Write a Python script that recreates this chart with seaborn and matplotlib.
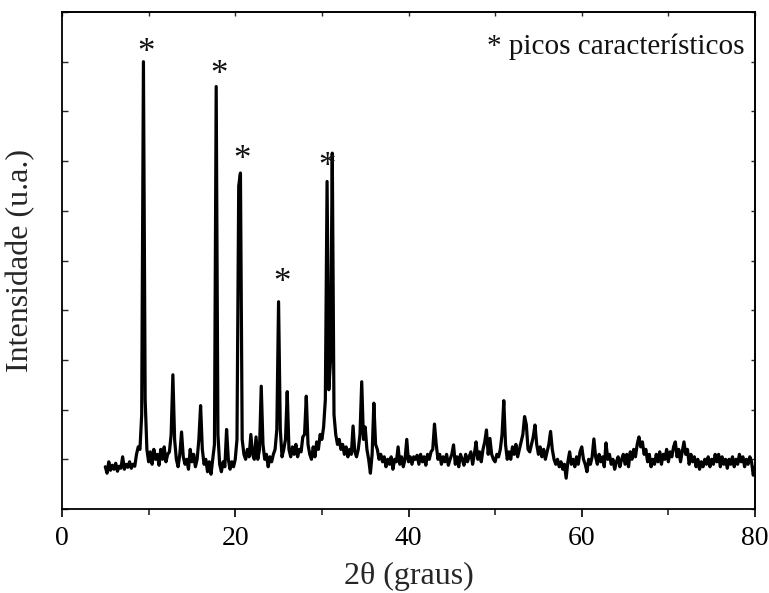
import numpy as np
import pandas as pd
import matplotlib
matplotlib.use("Agg")
import matplotlib.pyplot as plt
import seaborn as sns

# 2-theta sample positions (degrees), step 0.2 from 5.0 to 80.0
two_theta = np.round(np.arange(5.0, 80.0001, 0.2), 1)

intensity = [
    0.85, 0.72, 0.95, 0.78, 0.88, 0.80, 0.92, 0.76, 0.86, 0.82,   # 5.0-6.8
    1.05, 0.80, 0.90, 0.84, 0.95, 0.82, 0.90, 0.86, 1.10, 1.25,   # 7.0-8.8
    1.20, 1.90, 9.00, 2.20, 1.20, 0.95, 1.15, 0.90, 1.20, 1.00,   # 9.0-10.8
    1.10, 0.88, 1.20, 1.00, 1.25, 0.95, 1.10, 1.15, 1.50, 2.70,   # 11.0-12.8
    1.40, 1.00, 0.85, 1.10, 1.55, 1.05, 0.90, 1.00, 0.80, 1.20,   # 13.0-14.8
    0.95, 1.10, 0.85, 1.00, 1.40, 2.08, 1.20, 0.90, 1.00, 0.75,   # 15.0-16.8
    0.95, 0.70, 1.00, 1.30, 8.50, 1.50, 0.90, 0.75, 0.95, 0.85,   # 17.0-18.8
    1.60, 1.00, 0.80, 0.95, 0.85, 1.00, 1.40, 6.50, 6.76, 1.40,   # 19.0-20.8
    1.10, 1.00, 1.20, 1.05, 1.50, 1.10, 1.00, 1.45, 1.00, 1.20,   # 21.0-22.8
    2.47, 1.30, 1.00, 1.10, 0.85, 1.05, 0.95, 1.10, 1.20, 1.60,   # 23.0-24.8
    4.17, 1.60, 1.05, 1.20, 1.40, 2.36, 1.20, 1.05, 1.25, 1.10,   # 25.0-26.8
    1.30, 1.05, 1.20, 1.15, 1.45, 1.50, 2.27, 1.30, 1.10, 1.00,   # 27.0-28.8
    1.25, 1.05, 1.35, 1.20, 1.50, 1.40, 1.65, 2.20, 6.59, 2.40,   # 29.0-30.8
    3.00, 7.16, 1.90, 1.50, 1.30, 1.40, 1.20, 1.30, 1.10, 1.25,   # 31.0-32.8
    1.05, 1.20, 1.10, 1.67, 1.15, 1.05, 1.20, 1.50, 2.56, 1.40,   # 33.0-34.8
    1.65, 1.20, 1.00, 0.72, 1.10, 2.13, 1.30, 1.20, 1.00, 1.10,   # 35.0-36.8
    0.95, 1.05, 0.85, 1.00, 0.90, 1.05, 0.80, 1.00, 0.95, 1.25,   # 37.0-38.8
    0.90, 1.05, 0.85, 1.00, 1.40, 0.95, 1.05, 0.90, 1.05, 1.00,   # 39.0-40.8
    1.08, 0.90, 1.10, 0.95, 1.05, 0.88, 1.10, 1.00, 1.15, 1.20,   # 41.0-42.8
    1.71, 1.30, 1.00, 1.10, 0.90, 1.05, 0.95, 1.10, 0.88, 1.00,   # 43.0-44.8
    1.10, 1.29, 0.90, 1.05, 0.85, 1.10, 1.00, 0.88, 1.10, 0.95,   # 45.0-46.8
    1.05, 1.15, 0.90, 1.10, 1.35, 1.00, 1.15, 0.95, 1.20, 1.35,   # 47.0-48.8
    1.59, 1.10, 1.42, 1.10, 1.00, 0.95, 1.10, 1.05, 1.20, 1.50,   # 49.0-50.8
    2.18, 1.30, 1.00, 1.15, 1.00, 1.25, 1.10, 1.30, 1.05, 1.20,   # 51.0-52.8
    1.35, 1.50, 1.86, 1.70, 1.20, 1.15, 1.30, 1.45, 1.69, 1.30,   # 53.0-54.8
    1.10, 1.25, 1.05, 1.20, 1.00, 1.15, 1.30, 1.56, 1.20, 1.00,   # 55.0-56.8
    0.90, 1.00, 0.85, 0.95, 0.80, 0.90, 0.62, 0.95, 1.15, 0.90,   # 57.0-58.8
    1.00, 0.85, 1.05, 0.90, 1.15, 1.25, 1.00, 0.90, 0.75, 1.00,   # 59.0-60.8
    0.90, 1.05, 1.41, 1.05, 0.90, 1.10, 0.95, 1.05, 0.85, 1.33,   # 61.0-62.8
    1.00, 1.10, 0.90, 1.00, 0.80, 0.95, 1.05, 0.85, 1.00, 1.10,   # 63.0-64.8
    0.90, 1.10, 0.85, 1.15, 1.00, 1.20, 1.05, 1.30, 1.45, 1.25,   # 65.0-66.8
    1.35, 1.10, 1.20, 0.95, 1.10, 0.85, 1.00, 0.90, 1.10, 0.95,   # 67.0-68.8
    1.15, 0.90, 1.10, 1.00, 1.20, 0.95, 1.15, 1.05, 1.25, 1.35,   # 69.0-70.8
    1.05, 1.20, 0.95, 1.15, 1.35, 1.10, 1.20, 0.90, 1.10, 0.95,   # 71.0-72.8
    1.05, 0.85, 1.00, 0.80, 0.95, 0.85, 1.00, 0.90, 1.05, 0.85,   # 73.0-74.8
    1.00, 0.90, 1.10, 0.95, 1.10, 0.85, 1.05, 0.90, 1.00, 0.82,   # 75.0-76.8
    1.00, 0.90, 1.05, 0.85, 1.00, 0.90, 1.10, 0.95, 1.05, 0.85,   # 77.0-78.8
    1.00, 0.90, 1.05, 0.95, 0.68, 0.85,                           # 79.0-80.0
]

# characteristic peaks marked with an asterisk (glyph centres)
star_x = [9.7, 18.1, 20.75, 25.4, 30.6]
star_y = [9.34, 8.9, 7.17, 4.7, 7.04]

x_ticks = [0, 20, 40, 60, 80]
x_label = "2θ (graus)"
y_label = "Intensidade (u.a.)"
note = "* picos característicos"

sns.set_theme(style="ticks")
plt.rcParams["font.family"] = ["Liberation Serif", "DejaVu Serif"]

df = pd.DataFrame({"two_theta": two_theta, "intensity": intensity})

fig = plt.figure(figsize=(7.69, 5.93), dpi=100)
ax = fig.add_axes([62 / 769, 1 - 509 / 593, (755 - 62) / 769, (509 - 12) / 593])

sns.lineplot(data=df, x="two_theta", y="intensity", color="black",
             linewidth=2.3, estimator=None, sort=False, ax=ax)

for sx, sy in zip(star_x, star_y):
    ax.annotate("*", xy=(sx, sy), xytext=(0, -6), textcoords="offset points",
                ha="center", va="center", fontsize=25, color="#111111")

ax.text(0.985, 0.93, note, transform=ax.transAxes, ha="right", va="center",
        fontsize=21, color="#111111")

ax.set_xlim(0, 80)
ax.set_ylim(0, 10)
ax.set_xticks(x_ticks)
ax.set_xticks([10, 30, 50, 70], minor=True)
ax.set_yticks(np.arange(0, 11, 1))
ax.set_yticklabels([])
ax.tick_params(axis="x", which="major", direction="out", length=6, width=1.2,
               labelsize=20, pad=6, colors="black")
ax.tick_params(axis="x", which="minor", direction="out", length=4, width=1.2)
ax.tick_params(axis="y", which="major", direction="in", length=4, width=1.0)
ax.set_xlabel(x_label, fontsize=23, labelpad=8)
ax.set_ylabel(y_label, fontsize=23, labelpad=16)

for s in ax.spines.values():
    s.set_visible(True)
    s.set_linewidth(1.3)
    s.set_color("black")

top = ax.secondary_xaxis("top")
top.set_xticks([0, 10, 20, 30, 40, 50, 60, 70, 80])
top.set_xticklabels([])
top.tick_params(direction="in", length=3, width=1.0)
right = ax.secondary_yaxis("right")
right.set_yticks(np.arange(0, 11, 1))
right.set_yticklabels([])
right.tick_params(direction="in", length=3, width=1.0)

fig.savefig("out.png", dpi=100)
